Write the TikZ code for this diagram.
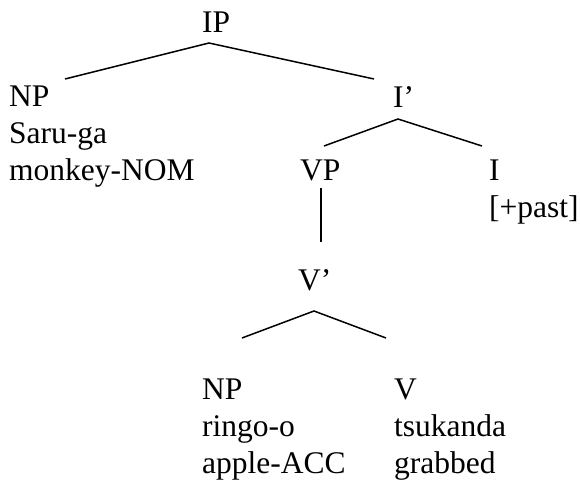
\documentclass[tikz,border=0pt]{standalone}
\usepackage{fontspec}
\setmainfont{Liberation Serif}
\pgfdeclarelayer{edgelayer}
\pgfdeclarelayer{nodelayer}
\pgfsetlayers{edgelayer,nodelayer,main}
\tikzstyle{none}=[inner sep=0pt]
\tikzstyle{word}=[inner sep=0pt,anchor=base west,font=\fontsize{31.5}{37}\selectfont]
\tikzstyle{branch}=[draw=black,line width=1.5pt]
\begin{document}
\begin{tikzpicture}[x=1pt,y=-1pt]
	\useasboundingbox (0, 0) rectangle (580, 480);
	\begin{pgfonlayer}{nodelayer}
		\node [style=word] (0) at (202, 32) {IP};
		\node [style=word] (1) at (9, 106) {NP};
		\node [style=word] (2) at (9, 143) {Saru-ga};
		\node [style=word] (3) at (9, 180) {monkey-NOM};
		\node [style=word] (4) at (393, 107) {I’};
		\node [style=word] (5) at (300, 180) {VP};
		\node [style=word] (6) at (489, 180) {I};
		\node [style=word] (7) at (489, 217) {[+past]};
		\node [style=word] (8) at (298, 290) {V’};
		\node [style=word] (9) at (202, 399) {NP};
		\node [style=word] (10) at (202, 436) {ringo-o};
		\node [style=word] (11) at (202, 473) {apple-ACC};
		\node [style=word] (12) at (394, 399) {V};
		\node [style=word] (13) at (394, 436) {tsukanda};
		\node [style=word] (14) at (394, 473) {grabbed};
		\node [style=none] (15) at (209, 43) {};
		\node [style=none] (16) at (65, 79) {};
		\node [style=none] (17) at (374, 79) {};
		\node [style=none] (18) at (398, 119) {};
		\node [style=none] (19) at (324, 146) {};
		\node [style=none] (20) at (482, 146) {};
		\node [style=none] (21) at (321, 188) {};
		\node [style=none] (22) at (321, 242) {};
		\node [style=none] (23) at (314, 311) {};
		\node [style=none] (24) at (242, 338) {};
		\node [style=none] (25) at (386, 338) {};
	\end{pgfonlayer}
	\begin{pgfonlayer}{edgelayer}
		\draw [style=branch] (16.center) to (15.center) to (17.center);
		\draw [style=branch] (19.center) to (18.center) to (20.center);
		\draw [style=branch] (21.center) to (22.center);
		\draw [style=branch] (24.center) to (23.center) to (25.center);
	\end{pgfonlayer}
\end{tikzpicture}
\end{document}
